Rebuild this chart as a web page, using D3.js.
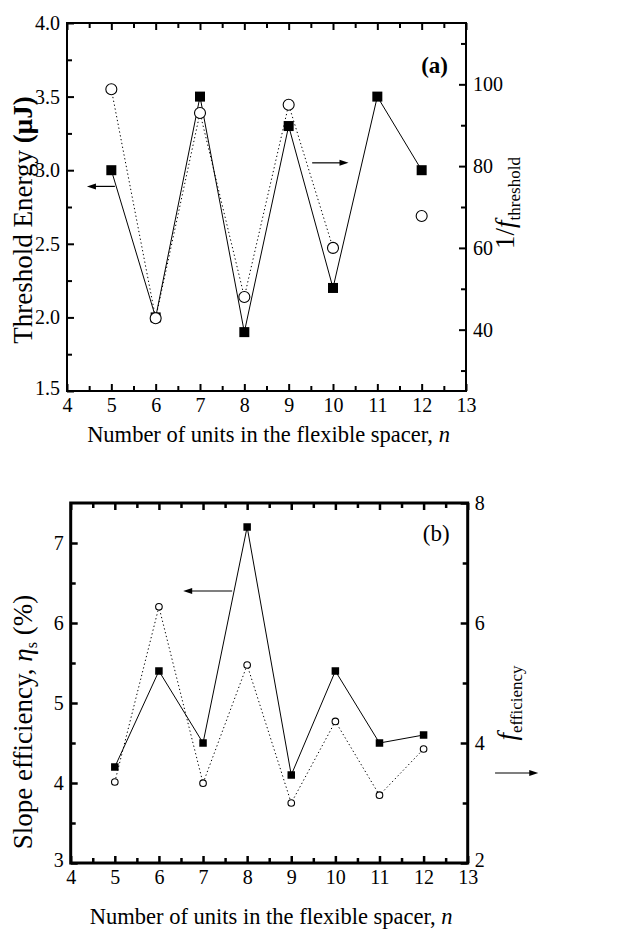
<!DOCTYPE html>
<html>
<head>
<meta charset="utf-8">
<script src="https://cdn.jsdelivr.net/npm/d3@7"></script>
<style>
  body { margin: 0; background: #fff; }
  svg text { font-family: "Liberation Serif", "Times New Roman", Times, "DejaVu Serif", serif !important; }
</style>
</head>
<body>
<div id="chart"></div>
<script>
"use strict";
// number of units in the flexible spacer
const nUnits = [5, 6, 7, 8, 9, 10, 11, 12];
// panel (a)
const thresholdEnergy = [3.0, 2.0, 3.5, 1.9, 3.3, 2.2, 3.5, 3.0];
const invFThreshold = [98.8, 42.8, 93, 48, 95, 60, null, 67.8];
// panel (b)
const slopeEfficiency = [4.2, 5.4, 4.5, 7.2, 4.1, 5.4, 4.5, 4.6];
const fEfficiency = [3.35, 6.27, 3.33, 5.3, 3.0, 4.36, 3.13, 3.9];

const xTicks = [4, 5, 6, 7, 8, 9, 10, 11, 12, 13];
const xMinor = [4.5, 5.5, 6.5, 7.5, 8.5, 9.5, 10.5, 11.5, 12.5];
const aLeftTicks = [1.5, 2.0, 2.5, 3.0, 3.5, 4.0];
const aLeftMinor = [1.75, 2.25, 2.75, 3.25, 3.75];
const aRightTicks = [40, 60, 80, 100];
const aRightMinor = [30, 50, 70, 90, 110];
const bLeftTicks = [3, 4, 5, 6, 7];
const bLeftMinor = [3.5, 4.5, 5.5, 6.5];
const bRightTicks = [2, 4, 6, 8];
const bRightMinor = [3, 5, 7];

// arrows in data units, side = which y axis they refer to
const aArrows = [
  { side: "left", from: [5.08, 2.89], to: [4.45, 2.89] },
  { side: "right", from: [9.53, 80.8], to: [10.35, 80.8] }
];
const bArrows = [
  { side: "left", from: [7.66, 6.4], to: [6.55, 6.4] },
  { side: "right", from: [13.62, 3.5], to: [14.6, 3.5] }
];

const W = 634, H = 933;
const svg = d3.select("#chart").append("svg")
  .attr("width", W).attr("height", H);

function drawPanel(p) {
  const x = d3.scaleLinear().domain([4, 13]).range([p.left, p.right]);
  const yL = d3.scaleLinear().domain(p.leftDomain).range([p.bottom, p.top]);
  const yR = d3.scaleLinear().domain(p.rightDomain).range([p.bottom, p.top]);
  const g = svg.append("g");

  const axes = [
    [d3.axisBottom(x).tickValues(xTicks).tickFormat(d3.format("d")), `translate(0,${p.bottom})`, true],
    [d3.axisBottom(x).tickValues(xMinor).tickFormat(""), `translate(0,${p.bottom})`, false],
    [d3.axisTop(x).tickValues(xTicks).tickFormat(""), `translate(0,${p.top})`, true],
    [d3.axisTop(x).tickValues(xMinor).tickFormat(""), `translate(0,${p.top})`, false],
    [d3.axisLeft(yL).tickValues(p.leftTicks).tickFormat(p.leftFormat), `translate(${p.left},0)`, true],
    [d3.axisLeft(yL).tickValues(p.leftMinor).tickFormat(""), `translate(${p.left},0)`, false],
    [d3.axisRight(yR).tickValues(p.rightTicks).tickFormat(d3.format("d")), `translate(${p.right},0)`, true],
    [d3.axisRight(yR).tickValues(p.rightMinor).tickFormat(""), `translate(${p.right},0)`, false]
  ];
  axes.forEach(([ax, tr, major]) => {
    ax.tickSizeInner(major ? -p.majorLen : -p.minorLen).tickSizeOuter(0).tickPadding(p.pad);
    const a = g.append("g").attr("transform", tr).call(ax);
    a.select(".domain").remove();
    a.selectAll(".tick line").attr("stroke", "#000").attr("stroke-width", p.tickWidth);
    a.selectAll("text").attr("font-size", p.tickFont).attr("fill", "#000");
  });
  // the corner labels sit a little above the bottom edge
  g.selectAll(".tick text").filter(d => d === p.leftDomain[0] || d === p.rightDomain[0])
    .attr("dy", "0.15em");

  g.append("rect")
    .attr("x", p.left).attr("y", p.top)
    .attr("width", p.right - p.left).attr("height", p.bottom - p.top)
    .attr("fill", "none").attr("stroke", "#000").attr("stroke-width", p.frameWidth);

  const leftPts = nUnits.map((n, i) => ({ n, v: p.leftVals[i] }));
  const rightPts = nUnits.map((n, i) => ({ n, v: p.rightVals[i] }));

  g.append("path")
    .datum(rightPts)
    .attr("fill", "none").attr("stroke", "#000").attr("stroke-width", 1)
    .attr("stroke-dasharray", "1.3,2.6")
    .attr("d", d3.line().defined(d => d.v != null).x(d => x(d.n)).y(d => yR(d.v)));

  g.append("path")
    .datum(leftPts)
    .attr("fill", "none").attr("stroke", "#000").attr("stroke-width", 1)
    .attr("d", d3.line().x(d => x(d.n)).y(d => yL(d.v)));

  g.selectAll(".sq").data(leftPts).join("rect")
    .attr("x", d => x(d.n) - p.sq / 2).attr("y", d => yL(d.v) - p.sq / 2)
    .attr("width", p.sq).attr("height", p.sq).attr("fill", "#000");

  g.selectAll(".ci").data(rightPts.filter(d => d.v != null)).join("circle")
    .attr("cx", d => x(d.n)).attr("cy", d => yR(d.v)).attr("r", p.r)
    .attr("fill", "#fff").attr("stroke", "#000").attr("stroke-width", 1.1);

  // horizontal arrows with a drawn head
  p.arrows.forEach(a => {
    const ys = a.side === "left" ? yL : yR;
    const x0 = x(a.from[0]), x1 = x(a.to[0]), yy = ys(a.from[1]);
    const dir = Math.sign(x1 - x0);
    g.append("line")
      .attr("x1", x0).attr("y1", yy).attr("x2", x1 - dir * 6).attr("y2", yy)
      .attr("stroke", "#000").attr("stroke-width", 1.2);
    g.append("path")
      .attr("d", `M${x1},${yy}L${x1 - dir * 9},${yy - 3}L${x1 - dir * 9},${yy + 3}Z`)
      .attr("fill", "#000");
  });

  // panel tag
  g.append("text")
    .attr("x", p.right - 18).attr("y", p.top + p.tagDy)
    .attr("text-anchor", "end").attr("font-size", 23)
    .attr("font-weight", p.tagBold ? "bold" : "normal")
    .text(p.tag);

  // x title
  const xt = g.append("text")
    .attr("x", (p.left + p.right) / 2 + 2).attr("y", p.xTitleY)
    .attr("text-anchor", "middle").attr("font-size", 22.5);
  xt.append("tspan").text("Number of units in the flexible spacer, ");
  xt.append("tspan").attr("font-style", "italic").text("n");

  // left title
  const lt = g.append("text")
    .attr("transform", `translate(${p.leftTitleX},${p.leftTitleY}) rotate(-90)`)
    .attr("text-anchor", "middle").attr("font-size", p.yTitleFont);
  p.leftTitle(lt);

  // right title
  const rt = g.append("text")
    .attr("transform", `translate(${p.rightTitleX},${p.rightTitleY}) rotate(-90)`)
    .attr("text-anchor", "middle").attr("font-size", 27);
  p.rightTitle(rt);
}

drawPanel({
  left: 67, right: 466, top: 23, bottom: 391,
  leftDomain: [1.5, 4.0], rightDomain: [25, 115],
  leftTicks: aLeftTicks, leftMinor: aLeftMinor, leftFormat: d3.format(".1f"),
  rightTicks: aRightTicks, rightMinor: aRightMinor,
  leftVals: thresholdEnergy, rightVals: invFThreshold,
  majorLen: 7, minorLen: 5, pad: 7, tickWidth: 2, tickFont: 20, frameWidth: 2,
  sq: 10, r: 5.5, arrows: aArrows,
  tag: "(a)", tagBold: true, tagDy: 50,
  xTitleY: 442, yTitleFont: 27,
  leftTitleX: 32, leftTitleY: 220,
  leftTitle: t => {
    t.append("tspan").text("Threshold Energy ");
    t.append("tspan").attr("font-weight", "bold").text("(μJ)");
  },
  rightTitleX: 514, rightTitleY: 203,
  rightTitle: t => {
    t.append("tspan").text("1/");
    t.append("tspan").attr("font-style", "italic").text("f");
    t.append("tspan").attr("font-size", 17).attr("dy", 6).text("threshold");
  }
});

drawPanel({
  left: 70.7, right: 467.7, top: 503, bottom: 863,
  leftDomain: [3, 7.5], rightDomain: [2, 8],
  leftTicks: bLeftTicks, leftMinor: bLeftMinor, leftFormat: d3.format("d"),
  rightTicks: bRightTicks, rightMinor: bRightMinor,
  leftVals: slopeEfficiency, rightVals: fEfficiency,
  majorLen: 7, minorLen: 5, pad: 7, tickWidth: 2.5, tickFont: 20, frameWidth: 3,
  sq: 7.5, r: 3.3, arrows: bArrows,
  tag: "(b)", tagBold: false, tagDy: 38,
  xTitleY: 924, yTitleFont: 27,
  leftTitleX: 32, leftTitleY: 722,
  leftTitle: t => {
    t.append("tspan").text("Slope efficiency, ");
    t.append("tspan").attr("font-style", "italic").text("η");
    t.append("tspan").attr("font-size", 16).attr("dy", 5).text("s");
    t.append("tspan").attr("dy", -5).text(" (%)");
  },
  rightTitleX: 516, rightTitleY: 703,
  rightTitle: t => {
    t.append("tspan").attr("font-style", "italic").text("f");
    t.append("tspan").attr("font-size", 17).attr("dy", 6).text("efficiency");
  }
});
</script>
</body>
</html>
